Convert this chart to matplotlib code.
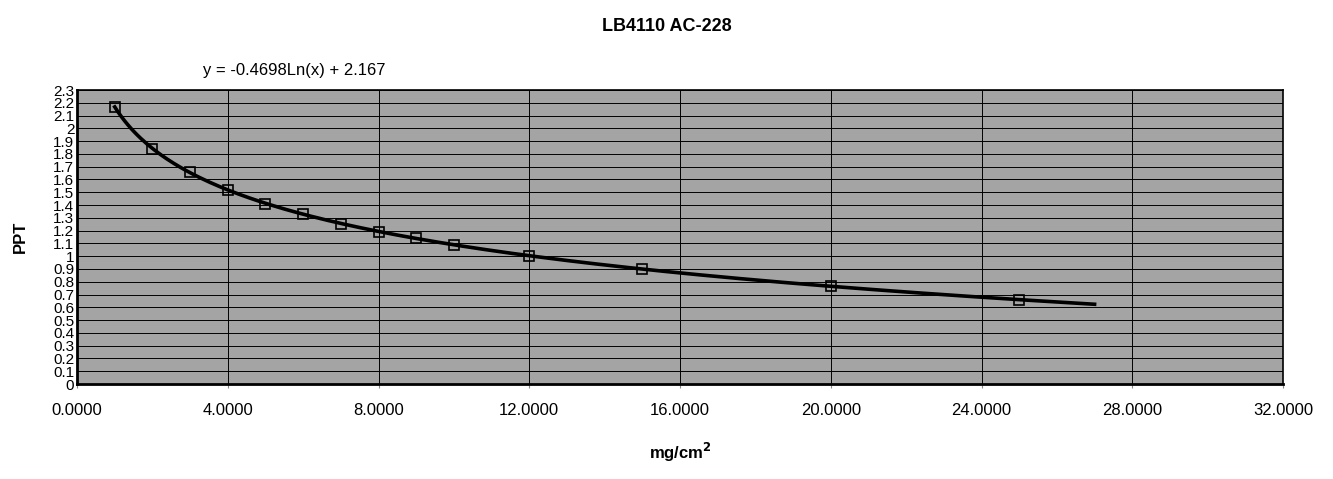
import numpy as np
import matplotlib
matplotlib.use("Agg")
from matplotlib import pyplot as plt

plt.rcParams['font.family'] = ['Liberation Sans', 'DejaVu Sans']

# measured points (mg/cm2 vs PPT)
mg_cm2 = [1, 2, 3, 4, 5, 6, 7, 8, 9, 10, 12, 15, 20, 25]
ppt = [2.17, 1.84, 1.655, 1.52, 1.41, 1.33, 1.255, 1.19, 1.14, 1.09, 1.005, 0.90, 0.765, 0.66]
xticks = [0, 4, 8, 12, 16, 20, 24, 28, 32]
yticks = [round(0.1 * i, 1) for i in range(24)]
ytick_labels = ['0'] + ['%g' % v for v in yticks[1:]]

# log trendline fitted from the points
b, a = np.polyfit(np.log(mg_cm2), ppt, 1)
xs = np.linspace(1, 27, 300)
trend = b * np.log(xs) + a

fig = plt.figure(figsize=(13.33, 4.79), dpi=100)
ax = fig.add_axes([0.0578, 0.1983, 0.9047, 0.6138])
ax.set_facecolor('#a4a4a4')

ax.plot(xs, trend, color='black', lw=2.6, zorder=3)
ax.plot(mg_cm2, ppt, linestyle='none', marker='s', ms=7, mfc='none',
        mec='black', mew=1.2, zorder=4)

ax.set_xlim(0, 32)
ax.set_ylim(0, 2.3)
ax.set_xticks(xticks)
ax.set_xticklabels(['%.4f' % v for v in xticks], fontsize=12)
ax.set_yticks(yticks)
ax.set_yticklabels(ytick_labels, fontsize=11)
ax.tick_params(axis='y', length=0, pad=2)
ax.tick_params(axis='x', length=3, pad=11, direction='out', color='#888888')
ax.grid(True, color='black', lw=0.7)
ax.set_axisbelow(True)
for side in ['top', 'right']:
    ax.spines[side].set_linewidth(1.2)
for side in ['left', 'bottom']:
    ax.spines[side].set_linewidth(2)

ax.set_xlabel('mg/cm$^\\mathbf{2}$', fontsize=12, fontweight='bold', labelpad=16)
ax.set_ylabel('PPT', fontsize=12, fontweight='bold', labelpad=18)
fig.text(0.5, 0.944, 'LB4110 AC-228', ha='center', va='center',
         fontsize=13, fontweight='bold')
fig.text(0.152, 0.853, 'y = -0.4698Ln(x) + 2.167', ha='left', va='center',
         fontsize=12)

fig.savefig('out.png', dpi=100)
